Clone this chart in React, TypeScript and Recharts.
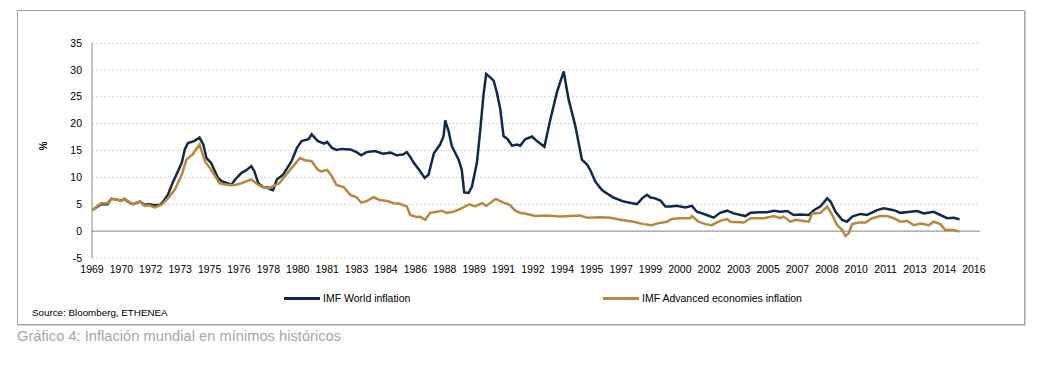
import React from 'react';
import { LineChart, Line, XAxis, YAxis, CartesianGrid, ReferenceLine } from 'recharts';

// x = months since Jan 1969, y = inflation in %
const worldInflation: [number, number][] = [
  [0, 3.9], [6, 5.0], [10, 5.0], [12.5, 6.0], [17, 5.8], [19, 5.7], [21, 6.0], [23, 5.5], [26.5, 5.0],
  [31, 5.5], [34, 4.9], [37, 5.0], [40.5, 4.8], [44, 4.9], [46, 5.5], [49, 6.75], [52, 8.9], [55.5, 11.1],
  [58, 12.7], [60, 15.2], [62, 16.4], [66, 16.75], [69.5, 17.4], [72, 16.1], [74, 13.6], [77, 12.7],
  [81.5, 9.9], [84, 9.25], [88, 8.9], [90, 8.6], [92.5, 9.6], [96.5, 10.8], [100, 11.4], [103, 12.1],
  [105, 11.1], [107.5, 8.9], [110.5, 8.2], [114, 8.1], [115, 7.8], [117, 7.6], [119.5, 9.6], [123.5, 10.5],
  [129, 13], [132.5, 15.5], [135.5, 16.75], [140, 17.1], [142, 18], [146, 16.75], [150, 16.3], [152, 16.6],
  [155, 15.5], [158, 15.1], [161.5, 15.3], [167, 15.2], [171, 14.7], [174, 14.1], [177.5, 14.7], [183, 14.9],
  [188, 14.4], [193, 14.6], [197, 14.1], [201, 14.25], [203.5, 14.7], [205.5, 13.9], [208, 12.7], [212, 11.2],
  [215, 9.9], [217.5, 10.5], [221, 14.5], [225, 16.1], [227.3, 17.7], [228.3, 20.6], [230.5, 18.6],
  [232.6, 15.8], [237, 13.3], [239, 11.4], [240.6, 7.2], [243.4, 7.1], [245.6, 8.3], [248.8, 12.7],
  [251, 18.9], [253, 25.2], [254.8, 29.25], [257.4, 28.6], [259.6, 28], [261.7, 25.8], [263.9, 22.7],
  [266, 17.7], [268.7, 17.1], [271.5, 15.9], [274.7, 16.1], [276.8, 15.9], [280, 17.1], [284.4, 17.6],
  [287.6, 16.75], [292.4, 15.7], [296.3, 20.8], [300.5, 25.8], [304.9, 29.7], [308, 24.6], [312.4, 19.6],
  [316.7, 13.3], [320, 12.4], [322, 11.4], [325.3, 9.25], [328.6, 8.0], [330.7, 7.4], [337, 6.25],
  [343.7, 5.5], [352.3, 5.0], [355.6, 6.1], [358.7, 6.75], [361, 6.25], [364, 6.1], [367.4, 5.7],
  [370.6, 4.6], [373.8, 4.6], [378, 4.7], [383.5, 4.4], [387.8, 4.7], [391, 3.6], [396.5, 3.1],
  [401.8, 2.5], [406, 3.4], [410.5, 3.8], [414.8, 3.3], [422.3, 2.8], [425.6, 3.4], [432, 3.5],
  [436.4, 3.5], [440.7, 3.8], [445, 3.6], [449.3, 3.75], [453.6, 3.0], [458, 3.1], [463.4, 3.0],
  [466.6, 3.9], [470.9, 4.6], [475.2, 6.1], [477.4, 5.5], [480.6, 3.6], [484.9, 2.1], [488, 1.75],
  [491.4, 2.7], [496.7, 3.2], [501, 3.0], [507.5, 3.9], [511.8, 4.25], [518.3, 3.9], [522.6, 3.4],
  [529, 3.6], [533.4, 3.75], [537.7, 3.3], [544, 3.6], [548.4, 3.0], [552.7, 2.4], [557, 2.5], [560.8, 2.2],
];

const advancedInflation: [number, number][] = [
  [0, 3.9], [6, 5.2], [10, 5.2], [12.5, 6.0], [17, 5.8], [19, 5.6], [21, 6.0], [26.5, 5.0], [31, 5.5],
  [34, 4.7], [37, 4.8], [40.5, 4.4], [45, 4.9], [49, 6.1], [53.5, 7.7], [58, 10.5], [61, 13.3], [65, 14.25],
  [69.5, 16.1], [73, 13.0], [77, 11.4], [82.5, 8.9], [88, 8.6], [92.5, 8.6], [96.5, 8.9], [103, 9.6],
  [107.5, 8.6], [110.5, 8.2], [114, 8.0], [115, 8.1], [121, 8.9], [128, 11.4], [134.5, 13.6], [137.7, 13.2],
  [142, 13.0], [146, 11.4], [148, 11.1], [152, 11.4], [155, 10.2], [158, 8.6], [162.6, 8.2], [167, 6.75],
  [171, 6.3], [174, 5.3], [177.6, 5.6], [182, 6.3], [186, 5.8], [190.7, 5.6], [195, 5.2], [199, 5.1],
  [203.5, 4.6], [205.7, 3.0], [210, 2.6], [212, 2.7], [215.4, 2.1], [218.6, 3.4], [223, 3.6], [226, 3.8],
  [229.3, 3.4], [233.5, 3.6], [237.8, 4.1], [244, 5.0], [247.7, 4.6], [252, 5.2], [255, 4.7], [261, 6.0],
  [266, 5.3], [270, 4.9], [273.6, 3.8], [276.8, 3.4], [281, 3.2], [286.5, 2.8], [294, 2.9], [302.7, 2.7],
  [315.6, 2.9], [320, 2.5], [328.6, 2.6], [335, 2.5], [341.5, 2.1], [350, 1.75], [356.5, 1.3], [361.8, 1.1],
  [365, 1.4], [371.6, 1.75], [374.8, 2.25], [380, 2.4], [386.7, 2.4], [387.8, 2.8], [392, 1.75],
  [396.5, 1.3], [400.7, 1.1], [406, 1.9], [410.5, 2.25], [412.7, 1.75], [421.3, 1.6], [425.6, 2.4],
  [434.3, 2.4], [440.7, 2.8], [445, 2.4], [447, 2.7], [451.5, 1.75], [454.8, 2.1], [460, 1.9],
  [463.4, 1.75], [465.5, 3.3], [470.9, 3.4], [475.2, 4.6], [478.5, 3.0], [481.7, 1.1], [485, 0.2],
  [487, -0.9], [489.2, -0.4], [491.4, 1.3], [495.6, 1.6], [500, 1.6], [504.3, 2.4], [509.6, 2.8],
  [514, 2.8], [518.3, 2.4], [522.6, 1.75], [526.9, 1.9], [531.3, 1.1], [535.6, 1.4], [541, 1.1],
  [544, 1.75], [548.4, 1.3], [551.6, 0.2], [557, 0.2], [560.8, -0.1],
];

// one label every 19 months, as in the source spreadsheet
const yearLabels = [
  '1969', '1970', '1972', '1973', '1975', '1976', '1978', '1980', '1981', '1983', '1984',
  '1986', '1988', '1989', '1991', '1992', '1994', '1995', '1997', '1999', '2000', '2002',
  '2003', '2005', '2007', '2008', '2010', '2011', '2013', '2014', '2016',
];
const labelStep = 19;
const yTicks = [-5, 0, 5, 10, 15, 20, 25, 30, 35];

const WORLD = '#0f2a4a';
const ADVANCED = '#b8883c';
const FONT = '"Liberation Sans", Arial, sans-serif';

const toRows = (pts: [number, number][]) => pts.map(([m, v]) => ({ m, v }));

export default function App() {
  const tickMonths = yearLabels.map((_, i) => i * labelStep);

  return (
    <div style={{ position: 'relative', width: 1037, height: 351, fontFamily: FONT }}>
      <div
        style={{
          position: 'absolute', left: 9, top: 2, width: 1008, height: 315, boxSizing: 'border-box',
          border: '1px solid #a8a8a8', boxShadow: '1px 1px 0 #d0d0d0',
        }}
      />
      <div style={{ position: 'absolute', left: 0, top: 0 }}>
        <LineChart width={1000} height={300} margin={{ top: 35, right: 28, bottom: 20, left: 44 }}>
          <CartesianGrid vertical={false} stroke="#d4d4d4" strokeDasharray="2 2" />
          <XAxis
            type="number"
            dataKey="m"
            domain={[0, 574]}
            ticks={tickMonths}
            tickFormatter={(m: number) => yearLabels[Math.round(m / labelStep)]}
            axisLine={false}
            tickLine={false}
            height={30}
            interval={0}
            tick={{ fontSize: 10.5, fill: '#000', fontFamily: FONT }}
            allowDataOverflow
          />
          <YAxis
            type="number"
            domain={[-5, 35]}
            ticks={yTicks}
            width={40}
            axisLine={{ stroke: '#8c8c8c' }}
            tickLine={false}
            tickMargin={4}
            tick={{ fontSize: 10.5, fill: '#000', fontFamily: FONT }}
            label={{ value: '%', angle: -90, position: 'insideLeft', offset: -9, fontSize: 10, fill: '#000', fontWeight: 'bold' }}
          />
          <ReferenceLine y={0} stroke="#8c8c8c" />
          <Line data={toRows(worldInflation)} dataKey="v" name="IMF World inflation" stroke={WORLD}
            strokeWidth={2.5} dot={false} isAnimationActive={false} />
          <Line data={toRows(advancedInflation)} dataKey="v" name="IMF Advanced economies inflation" stroke={ADVANCED}
            strokeWidth={2.5} dot={false} isAnimationActive={false} />
        </LineChart>
      </div>
      {[
        { name: 'IMF World inflation', color: WORLD, left: 276 },
        { name: 'IMF Advanced economies inflation', color: ADVANCED, left: 595 },
      ].map(item => (
        <div key={item.name} style={{ position: 'absolute', left: item.left, top: 283, display: 'flex', alignItems: 'center', height: 14 }}>
          <span style={{ display: 'inline-block', width: 36, height: 3, background: item.color, marginRight: 3 }} />
          <span style={{ fontSize: 10.5, color: '#000' }}>{item.name}</span>
        </div>
      ))}
      <div style={{ position: 'absolute', left: 24, top: 299, fontSize: 9.8, color: '#000' }}>
        Source: Bloomberg, ETHENEA
      </div>
      <div style={{ position: 'absolute', left: 9, top: 320, fontSize: 14.7, color: '#a6a6a6' }}>
        Gráfico 4: Inflación mundial en mínimos históricos
      </div>
    </div>
  );
}
